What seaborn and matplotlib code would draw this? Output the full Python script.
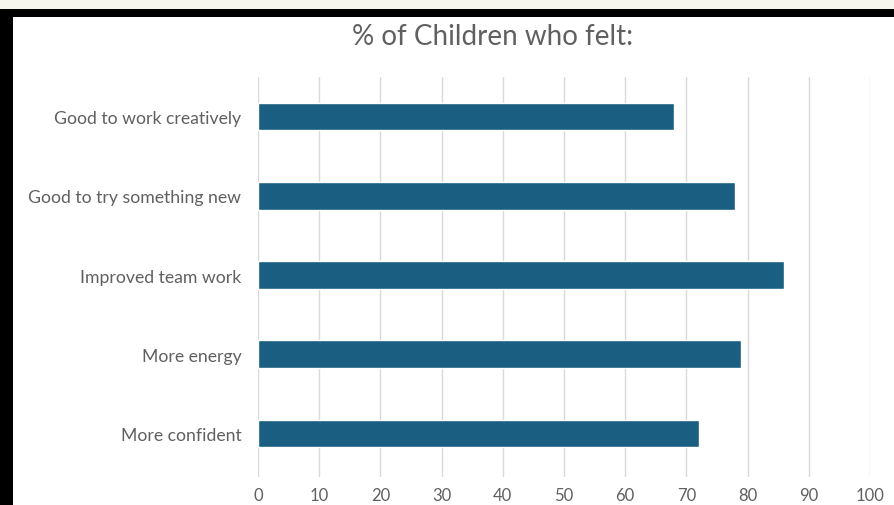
# Import libraries
import matplotlib
matplotlib.use("Agg")
import matplotlib.pyplot as plt
import seaborn as sns
from matplotlib.patches import Rectangle

# chart data
labels = ["Good to work creatively", "Good to try something new",
          "Improved team work", "More energy", "More confident"]
values = [68, 78, 86, 79, 72]
ticks = [0, 10, 20, 30, 40, 50, 60, 70, 80, 90, 100]

sns.set_style("white")
plt.rcParams['font.family'] = ['Lato', 'DejaVu Sans']

W, H = 894, 506
fig = plt.figure(figsize=(W / 100, H / 100), dpi=100, facecolor="#f6f5ee")

# black frame with white panel, like the cropped screenshot
fig.patches.append(Rectangle((0, 0), 1, 1 - 10 / H, transform=fig.transFigure,
                             facecolor="black", edgecolor="none", zorder=-2))
fig.patches.append(Rectangle((13 / W, 0), 1, 1 - 18 / H, transform=fig.transFigure,
                             facecolor="white", edgecolor="none", zorder=-1))

ax = fig.add_axes([258 / W, 1 - 478 / H, (870 - 258) / W, 400 / H])
ax.set_facecolor("none")

sns.barplot(x=values, y=labels, orient="h", color="#1a5f82", width=0.35,
            saturation=1, ax=ax, zorder=3)

ax.set_xlim(0, 100)
ax.set_ylim(4.55, -0.5)
ax.set_xticks(ticks)
ax.xaxis.grid(True, color="#d9d9d9", linewidth=1)
ax.yaxis.grid(False)
ax.set_axisbelow(True)
for s in ax.spines.values():
    s.set_visible(False)
ax.tick_params(axis="both", length=0, colors="#606060")
ax.tick_params(axis="x", pad=7, labelsize=12)
ax.tick_params(axis="y", pad=12, labelsize=12.7)
ax.set_xlabel("")
ax.set_ylabel("")

fig.text(493 / W, 1 - 37 / H, "% of Children who felt:", ha="center", va="center",
         fontsize=20, color="#606060")

fig.savefig("out.png", dpi=100, facecolor=fig.get_facecolor())
